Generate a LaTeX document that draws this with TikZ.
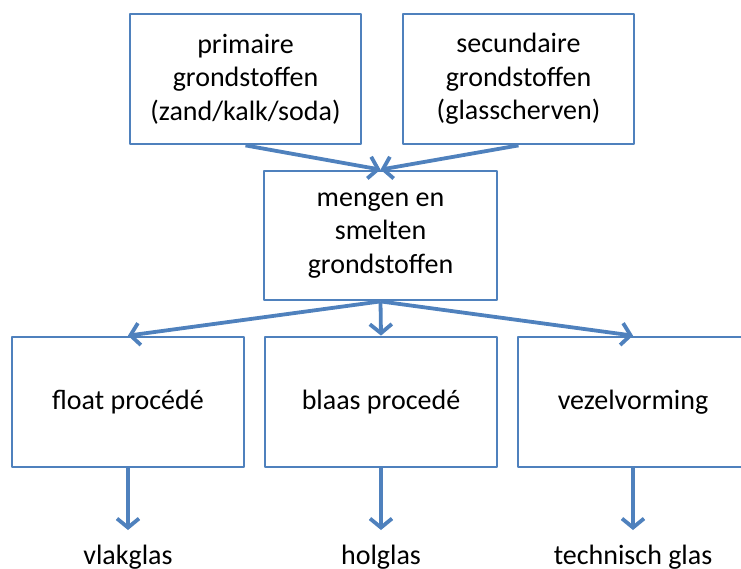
\documentclass[tikz,border=0pt]{standalone}
\usepackage{fontspec}
\setmainfont{Carlito}
\usetikzlibrary{arrows.meta}
\definecolor{boxblue}{HTML}{4F81BD}

\begin{document}
\begin{tikzpicture}[x=1pt,y=-1pt,line join=round,
    blok/.style={draw=boxblue,line width=2.8pt,minimum width=231pt,minimum height=130pt,
      inner sep=0pt,align=center,font=\fontsize{28}{33.5}\selectfont},
    uitkomst/.style={anchor=north,inner sep=0pt,font=\fontsize{28}{33.5}\selectfont},
    pijl/.style={draw=boxblue,line width=3.8pt,-{Straight Barb[length=9pt,width=22pt]}}]
  \path[use as bounding box,clip] (0,0) rectangle (741,568);

  % grondstoffen
  \node[blok] (prim) at (245.5,79) {primaire\\grondstoffen\\(zand/kalk/soda)};
  \node[blok] (sec) at (518.5,79) {secundaire\\grondstoffen\\(glasscherven)};
  \node[blok,minimum width=233pt,minimum height=129pt] (mix) at (380.5,235.5) {mengen en\\smelten\\grondstoffen};

  % procedes
  \node[blok,minimum width=232pt] (float) at (128,402) {float procédé};
  \node[blok,minimum width=232pt] (blaas) at (381,402) {blaas procedé};
  \node[blok,minimum width=230pt] (vezel) at (633,402) {vezelvorming};

  % soorten glas
  \node[uitkomst] (vlak) at (128,545) {vlakglas};
  \node[uitkomst] (hol) at (381,545) {holglas};
  \node[uitkomst] (tech) at (633,545) {technisch glas};

  \draw[pijl] (prim.south) -- (mix.north);
  \draw[pijl] (sec.south) -- (mix.north);
  \foreach \n in {float,blaas,vezel}
    \draw[pijl] (mix.south) -- (\n.north);
  \foreach \n/\m in {float/vlak,blaas/hol,vezel/tech}
    \draw[pijl,shorten >=15pt] (\n.south) -- (\m.north);
\end{tikzpicture}
\end{document}
